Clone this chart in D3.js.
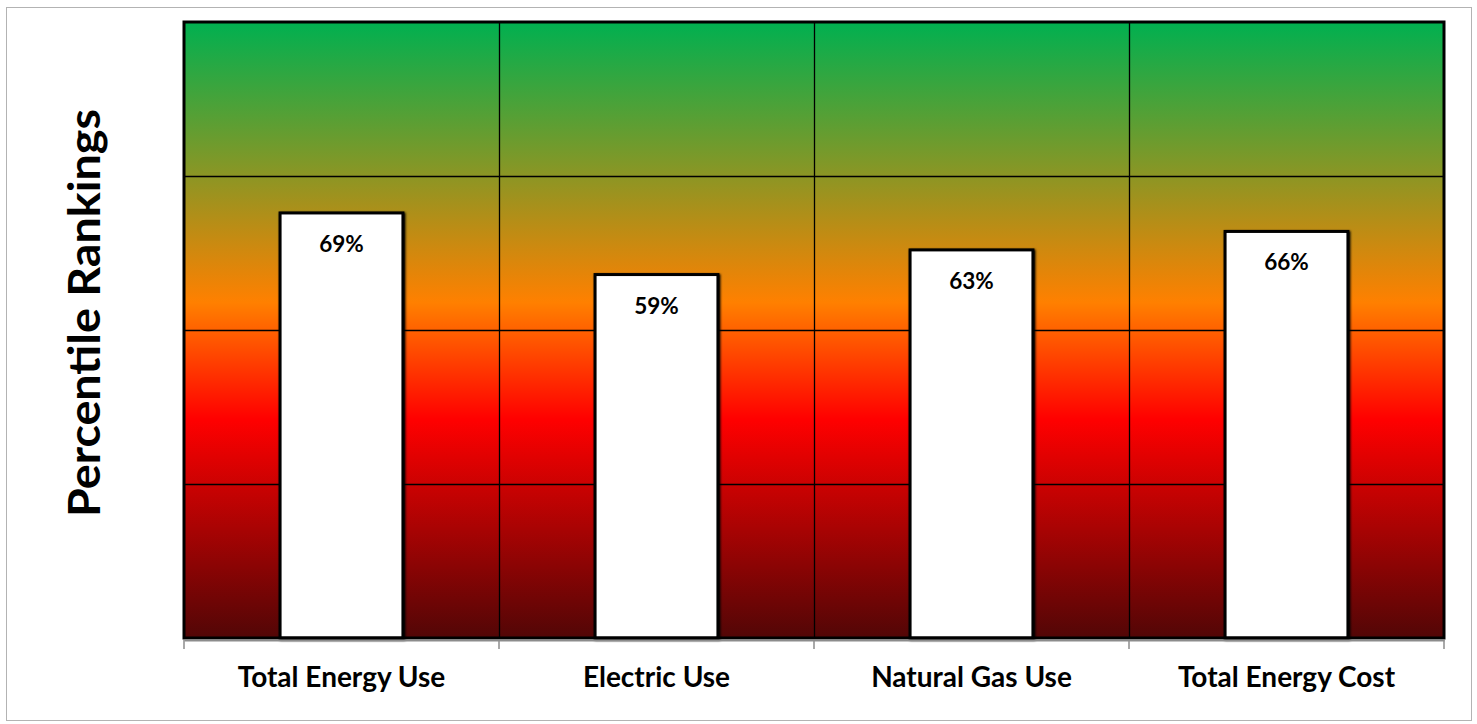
<!DOCTYPE html>
<html>
<head>
<meta charset="utf-8">
<script src="https://cdn.jsdelivr.net/npm/d3@7"></script>
<style>
  html, body { margin: 0; padding: 0; background: #fff; }
  svg { display: block; }
  text { font-family: Lato, "Open Sans", sans-serif; font-weight: bold; fill: #000; }
</style>
</head>
<body>
<svg id="chart" width="1477" height="724"></svg>
<script>
// Percentile ranking per energy metric
const categories = ["Total Energy Use", "Electric Use", "Natural Gas Use", "Total Energy Cost"];
const percentiles = [69, 59, 63, 66];
const yTicks = [0, 25, 50, 75, 100];

// Background band colours, top (best) to bottom (worst)
const bandStops = [
  { offset: "0%",   color: "#00B050" },
  { offset: "45.5%", color: "#FF8000" },
  { offset: "64.5%", color: "#FF0000" },
  { offset: "100%", color: "#520606" }
];

const svg = d3.select("#chart");
const plot = { left: 184, right: 1444, top: 22, bottom: 638 };

// outer frame
svg.append("rect")
  .attr("x", 6.5).attr("y", 7.5)
  .attr("width", 1465).attr("height", 713)
  .attr("fill", "#fff").attr("stroke", "#b3b3b3").attr("stroke-width", 1);

const x = d3.scaleBand()
  .domain(categories)
  .range([plot.left, plot.right])
  .paddingInner(0).paddingOuter(0);

const y = d3.scaleLinear().domain([0, 100]).range([plot.bottom, plot.top]);

const defs = svg.append("defs");
const grad = defs.append("linearGradient")
  .attr("id", "bandGrad")
  .attr("gradientUnits", "userSpaceOnUse")
  .attr("x1", 0).attr("x2", 0)
  .attr("y1", plot.top).attr("y2", plot.bottom);
grad.selectAll("stop").data(bandStops).join("stop")
  .attr("offset", d => d.offset)
  .attr("stop-color", d => d.color);

const shadow = defs.append("filter").attr("id", "barShadow")
  .attr("x", "-10%").attr("y", "-10%").attr("width", "120%").attr("height", "120%");
shadow.append("feGaussianBlur").attr("in", "SourceAlpha").attr("stdDeviation", 1.2).attr("result", "b");
shadow.append("feOffset").attr("in", "b").attr("dx", 1).attr("dy", 1).attr("result", "o");
const merge = shadow.append("feMerge");
merge.append("feMergeNode").attr("in", "o");
merge.append("feMergeNode").attr("in", "SourceGraphic");

// plot background
svg.append("rect")
  .attr("x", plot.left).attr("y", plot.top)
  .attr("width", plot.right - plot.left).attr("height", plot.bottom - plot.top)
  .attr("fill", "url(#bandGrad)");

// horizontal gridlines
svg.append("g")
  .selectAll("line").data(yTicks.slice(1, -1)).join("line")
  .attr("x1", plot.left).attr("x2", plot.right)
  .attr("y1", d => Math.round(y(d)) + 0.5).attr("y2", d => Math.round(y(d)) + 0.5)
  .attr("stroke", "#000").attr("stroke-width", 1.3);

// vertical gridlines between categories
svg.append("g")
  .selectAll("line").data(categories.slice(1)).join("line")
  .attr("x1", d => Math.round(x(d)) + 0.5).attr("x2", d => Math.round(x(d)) + 0.5)
  .attr("y1", plot.top).attr("y2", plot.bottom)
  .attr("stroke", "#000").attr("stroke-width", 1.3);

// bars
const barW = x.bandwidth() * 0.39;
svg.append("g")
  .selectAll("rect").data(categories).join("rect")
  .attr("x", d => x(d) + (x.bandwidth() - barW) / 2)
  .attr("y", (d, i) => y(percentiles[i]))
  .attr("width", barW)
  .attr("height", (d, i) => y(0) - y(percentiles[i]))
  .attr("fill", "#fff")
  .attr("stroke", "#000").attr("stroke-width", 3)
  .attr("filter", "url(#barShadow)");

// value labels
svg.append("g")
  .selectAll("text").data(categories).join("text")
  .attr("x", d => x(d) + x.bandwidth() / 2)
  .attr("y", (d, i) => y(percentiles[i]) + 39)
  .attr("text-anchor", "middle")
  .attr("font-size", 22.5)
  .text((d, i) => percentiles[i] + "%");

// plot border
svg.append("rect")
  .attr("x", plot.left).attr("y", plot.top)
  .attr("width", plot.right - plot.left).attr("height", plot.bottom - plot.top)
  .attr("fill", "none").attr("stroke", "#000").attr("stroke-width", 3);

// x axis
const xAxis = d3.axisBottom(x).tickSize(0).tickPadding(0).tickFormat("");
const gx = svg.append("g").attr("transform", `translate(0,${plot.bottom + 2})`).call(xAxis);
gx.select(".domain").attr("stroke", "#8c8c8c").attr("stroke-width", 2);
gx.append("g").selectAll("line")
  .data(categories.map(c => x(c)).concat([plot.right]))
  .join("line")
  .attr("x1", d => d).attr("x2", d => d)
  .attr("y1", 0).attr("y2", 9)
  .attr("stroke", "#8c8c8c").attr("stroke-width", 1.5);

svg.append("g")
  .selectAll("text").data(categories).join("text")
  .attr("x", d => x(d) + x.bandwidth() / 2)
  .attr("y", 687)
  .attr("text-anchor", "middle")
  .attr("font-size", 28)
  .text(d => d);

// y axis title
svg.append("text")
  .attr("transform", `translate(100,${313}) rotate(-90)`)
  .attr("text-anchor", "middle")
  .attr("font-size", 44)
  .attr("textLength", 408)
  .attr("lengthAdjust", "spacingAndGlyphs")
  .text("Percentile Rankings");
</script>
</body>
</html>
